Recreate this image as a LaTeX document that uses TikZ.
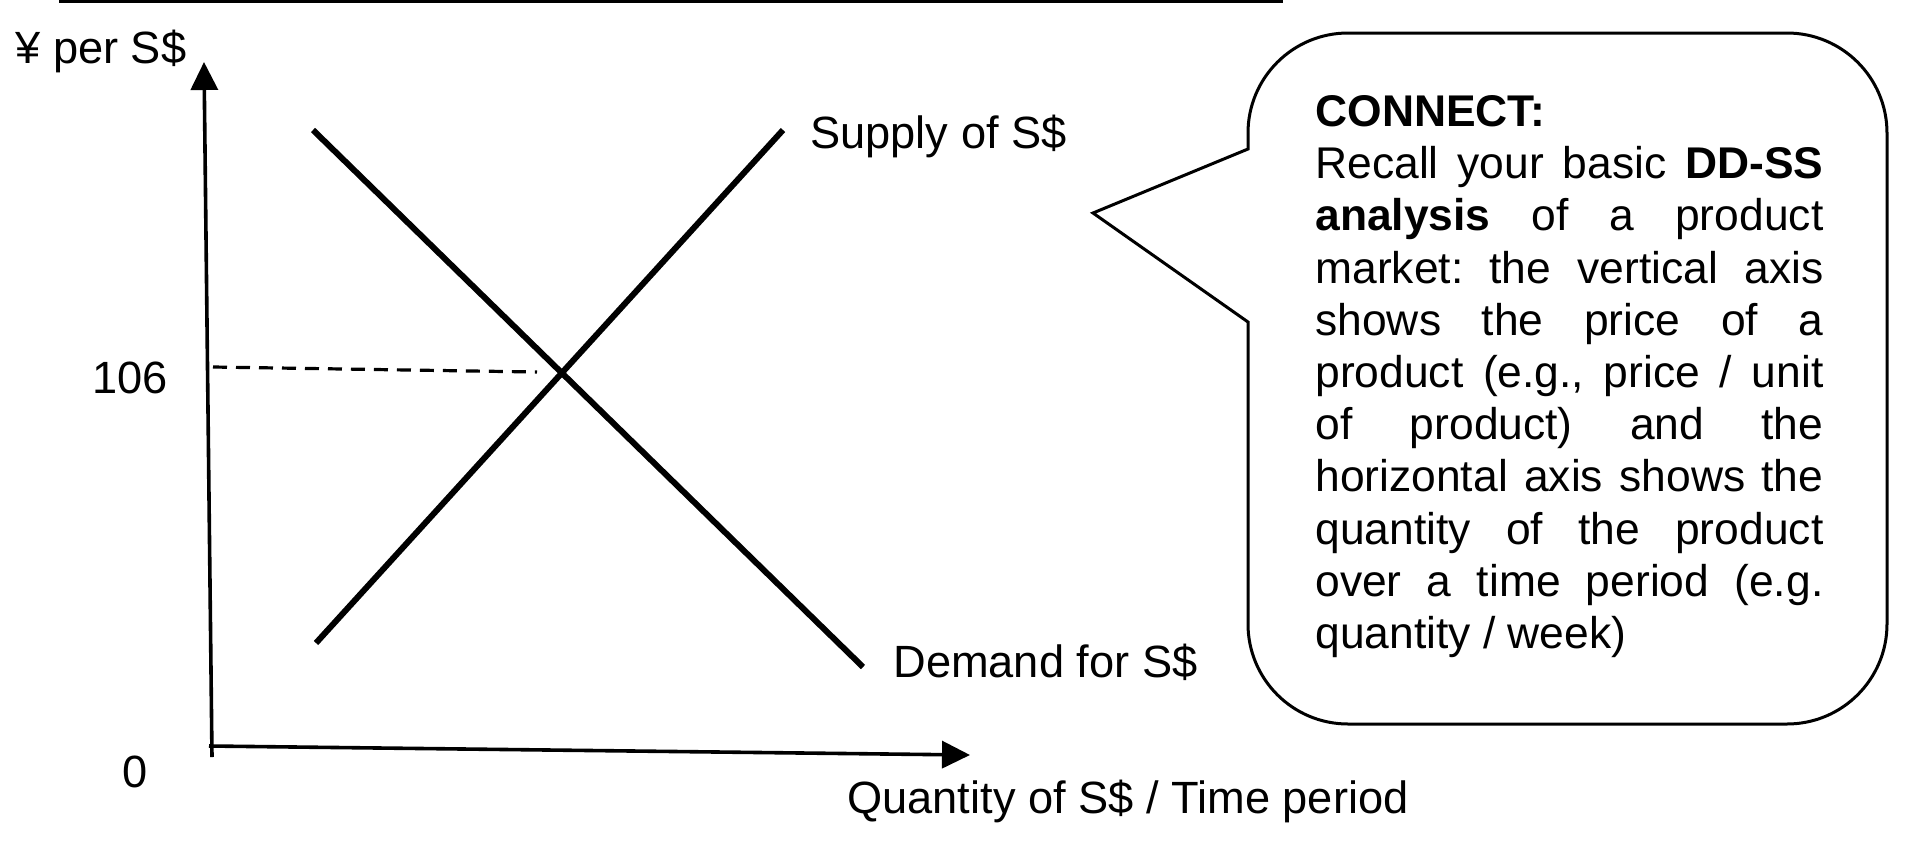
\documentclass[tikz,border=0pt]{standalone}
\usepackage{fontspec}
\setmainfont{Liberation Sans}
\usetikzlibrary{arrows.meta}
\tikzset{>={Triangle[length=14pt,width=13.5pt]}}
\tikzset{
  axisline/.style={line width=1.8pt},
  curveline/.style={line width=3pt},
  dashline/.style={line width=1.6pt,dash pattern=on 7pt off 4.5pt},
  bubble/.style={line width=1.5pt},
  lbl/.style={inner sep=0pt,anchor=base west,font=\fontsize{22.6pt}{26.3pt}\selectfont}
}

\begin{document}
\begin{tikzpicture}[x=0.5pt,y=-0.5pt]
  \useasboundingbox (0,0) rectangle (1918,852);
  % rule at the top
  \draw[line width=1.4pt] (59,1.5) -- (1283,1.5);
  % axes
  \coordinate (ytop) at (204,62);
  \coordinate (ybot) at (212,757);
  \coordinate (xleft) at (209,746);
  \coordinate (xright) at (970,755);
  \draw[axisline,->] (ybot) -- (ytop);
  \draw[axisline,->] (xleft) -- (xright);
  % demand and supply
  \coordinate (dtop) at (313,130);
  \coordinate (dbot) at (863,667);
  \coordinate (sbot) at (316,643);
  \coordinate (stop) at (783,130);
  \draw[curveline] (dtop) -- (dbot);
  \draw[curveline] (sbot) -- (stop);
  \coordinate (p106) at (213,367);
  \coordinate (eq) at (537,372);
  \draw[dashline] (p106) -- (eq);
  % labels
  \node[lbl] (yname) at (15,63) {¥ per S\$};
  \node[lbl] (v106) at (92,393) {106};
  \node[lbl] (zero) at (122,787) {0};
  \node[lbl] (slab) at (810,148) {Supply of S\$};
  \node[lbl] (dlab) at (893,677) {Demand for S\$};
  \node[lbl] (xname) at (847,813) {Quantity of S\$ / Time period};
  % speech bubble
  \draw[bubble] (1248,149) -- (1248,133)
    arc[start angle=180,end angle=270,radius=100] -- (1787,33)
    arc[start angle=270,end angle=360,radius=100] -- (1887,624)
    arc[start angle=0,end angle=90,radius=100] -- (1348,724)
    arc[start angle=90,end angle=180,radius=100] -- (1248,322)
    -- (1093,213) -- cycle;
  \node[lbl,anchor=north west,text width=254pt,align=justify,
    font=\fontsize{22.2pt}{26.1pt}\selectfont\frenchspacing] (note) at (1315,95)
    {\textbf{CONNECT:}\\
     Recall your basic \textbf{DD-SS}\linebreak
     \textbf{analysis} of a product\linebreak
     market: the vertical axis\linebreak
     shows the price of a\linebreak
     product (e.g., price / unit\linebreak
     of product) and the\linebreak
     horizontal axis shows the\linebreak
     quantity of the product\linebreak
     over a time period (e.g.\linebreak
     quantity / week)};
\end{tikzpicture}
\end{document}
